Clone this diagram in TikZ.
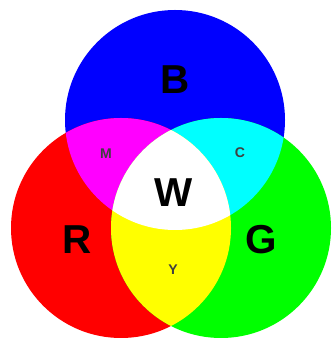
\documentclass[tikz,border=0pt]{standalone}
\usepackage{fontspec}
\setmainfont{Liberation Sans}
\definecolor{addR}{RGB}{255,0,0}
\definecolor{addG}{RGB}{0,255,0}
\definecolor{addB}{RGB}{0,0,255}
\definecolor{addC}{RGB}{0,255,255}
\definecolor{addM}{RGB}{255,0,255}
\definecolor{addY}{RGB}{255,255,0}
\tikzset{
  biglbl/.style={font=\fontsize{23}{25}\selectfont\bfseries,text=black,inner sep=0pt},
  smllbl/.style={font=\fontsize{8}{9}\selectfont\bfseries,text=black!75,inner sep=0pt}
}
\begin{document}
\begin{tikzpicture}[x=0.02cm,y=0.02cm]
  \useasboundingbox (0,0) rectangle (332,340);
  \fill[white] (0,0) rectangle (332,340);
  % primary circles
  \def\rad{110}
  \coordinate (cB) at (175,220);
  \coordinate (cR) at (121,112);
  \coordinate (cG) at (221,112);
  \fill[addB] (cB) circle (\rad);
  \fill[addR] (cR) circle (\rad);
  \fill[addG] (cG) circle (\rad);
  % pairwise overlaps
  \begin{scope}
    \clip (cB) circle (\rad);
    \fill[addM] (cR) circle (\rad);
  \end{scope}
  \begin{scope}
    \clip (cB) circle (\rad);
    \fill[addC] (cG) circle (\rad);
  \end{scope}
  \begin{scope}
    \clip (cR) circle (\rad);
    \fill[addY] (cG) circle (\rad);
  \end{scope}
  % all three
  \begin{scope}
    \clip (cB) circle (\rad);
    \clip (cR) circle (\rad);
    \fill[white] (cG) circle (\rad);
  \end{scope}
  % labels
  \node[biglbl] (lblB) at (175,260) {B};
  \node[biglbl] (lblW) at (174,147) {W};
  \node[biglbl] (lblR) at (77,100) {R};
  \node[biglbl] (lblG) at (261,100) {G};
  \node[smllbl] (lblM) at (106,186) {M};
  \node[smllbl] (lblC) at (240,187) {C};
  \node[smllbl] (lblY) at (173,70) {Y};
\end{tikzpicture}
\end{document}
